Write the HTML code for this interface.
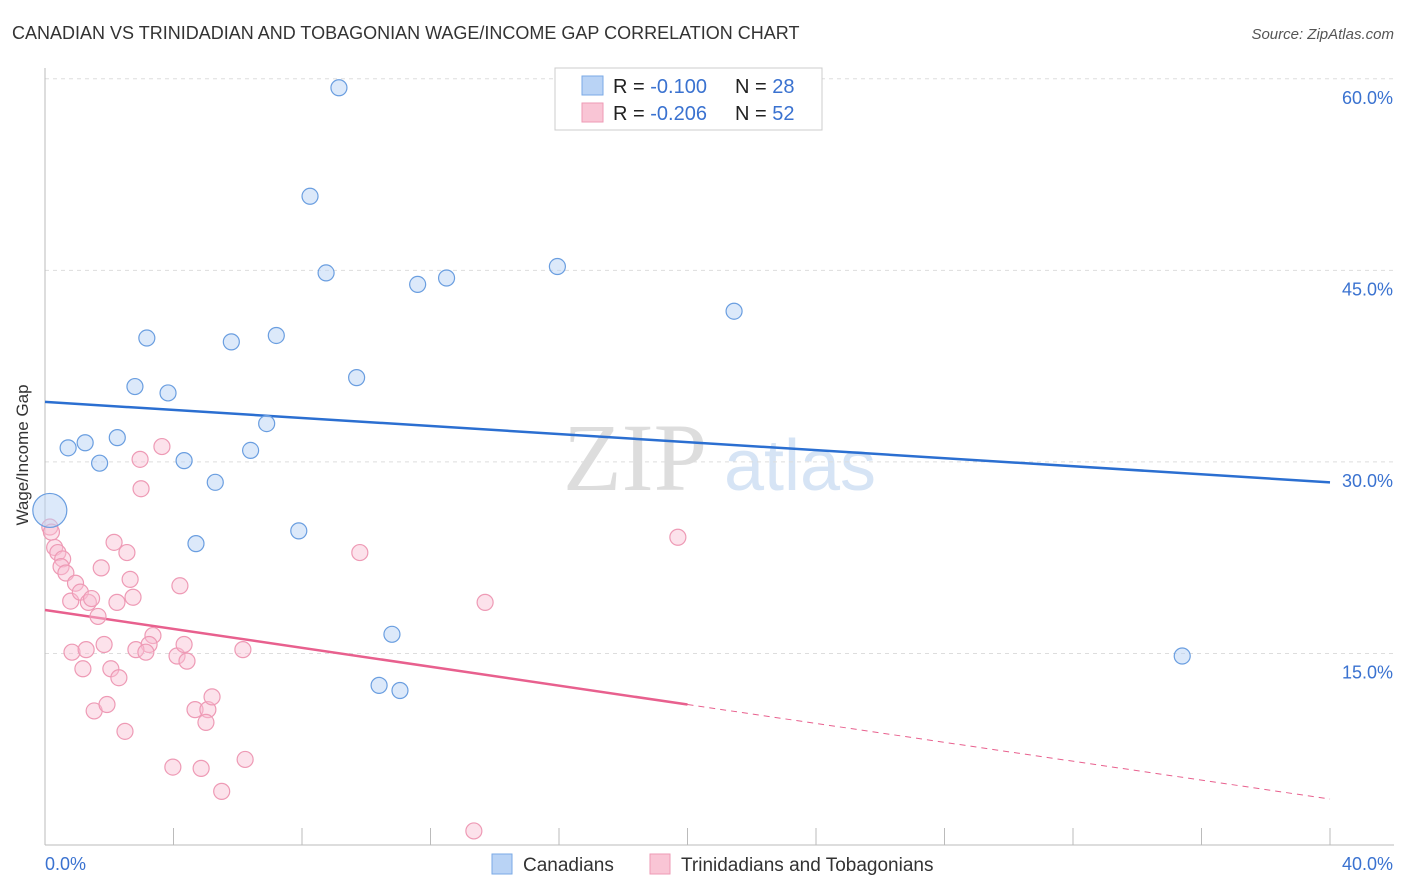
<!DOCTYPE html>
<html><head><meta charset="utf-8"><style>
body{margin:0;background:#fff;font-family:"Liberation Sans",sans-serif}
svg{display:block}
</style></head><body>
<svg id="chart" width="1406" height="892">
<text x="12" y="39" font-size="18" fill="#333">CANADIAN VS TRINIDADIAN AND TOBAGONIAN WAGE/INCOME GAP CORRELATION CHART</text>
<text x="1394" y="39" font-size="15" fill="#555" font-style="italic" text-anchor="end">Source: ZipAtlas.com</text>
<g>
<text x="635" y="490" font-size="96" fill="#ddd" font-family="Liberation Serif,serif" text-anchor="middle">ZIP</text>
<text x="800" y="490" font-size="72" fill="#d6e4f5" text-anchor="middle">atlas</text>
</g>
<g id="grid"></g><g id="axes"></g><g id="lines"></g><g id="pts"></g>
<text x="28" y="455" font-size="17" fill="#333" transform="rotate(-90 28 455)" text-anchor="middle">Wage/Income Gap</text>
<g>
<rect x="555" y="68" width="267" height="62" fill="#fff" stroke="#ccc"/>
<rect x="582" y="76" width="21" height="19" fill="#b9d3f5" stroke="#7aaae6"/>
<rect x="582" y="103" width="21" height="19" fill="#f9c5d5" stroke="#ee9ab5"/>
<text x="613" y="93" font-size="20" fill="#222">R = <tspan fill="#3a72d0">-0.100</tspan><tspan x="735">N = </tspan><tspan fill="#3a72d0">28</tspan></text>
<text x="613" y="120" font-size="20" fill="#222">R = <tspan fill="#3a72d0">-0.206</tspan><tspan x="735">N = </tspan><tspan fill="#3a72d0">52</tspan></text>
</g>
<g>
<rect x="492" y="854" width="20" height="20" fill="#b9d3f5" stroke="#7aaae6"/>
<text x="523" y="871" font-size="19" fill="#333">Canadians</text>
<rect x="650" y="854" width="20" height="20" fill="#f9c5d5" stroke="#ee9ab5"/>
<text x="681" y="871" font-size="19" fill="#333">Trinidadians and Tobagonians</text>
</g>
</svg>
<script>
const yTicks=[15,30,45,60];
const yTickLabels=["15.0%","30.0%","45.0%","60.0%"];
const xTicks=[0,4,8,12,16,20,24,28,32,36,40];
const canX=[9.15,8.25,8.75,11.6,12.5,15.95,21.45,3.17,5.8,7.2,2.8,3.83,9.7,6.9,0.72,1.25,2.25,1.7,4.33,6.4,5.3,0.15,7.9,4.7,10.8,10.4,11.05,35.4];
const canY=[59.3,50.8,44.8,43.9,44.4,45.3,41.8,39.7,39.4,39.9,35.9,35.4,36.6,33.0,31.1,31.5,31.9,29.9,30.1,30.9,28.4,26.2,24.6,23.6,16.5,12.5,12.1,14.8];
const triX=[0.15,0.2,0.3,0.4,0.55,0.5,0.65,0.95,0.8,1.1,1.35,1.45,1.65,1.75,0.84,1.28,1.18,1.84,1.53,1.93,2.05,2.3,2.49,2.15,2.55,2.65,2.24,2.74,2.96,2.99,3.64,3.36,3.24,2.83,3.14,4.2,4.11,4.33,4.42,4.67,5.07,5.2,5.01,3.98,4.86,5.5,6.23,6.16,9.8,13.7,19.7,13.35];
const triY=[24.9,24.5,23.3,22.9,22.4,21.8,21.3,20.5,19.1,19.8,19.0,19.3,17.9,21.7,15.1,15.3,13.8,15.7,10.5,11.0,13.8,13.1,8.9,23.7,22.9,20.8,19.0,19.4,30.2,27.9,31.2,16.4,15.7,15.3,15.1,20.3,14.8,15.7,14.4,10.6,10.6,11.6,9.6,6.1,6.0,4.2,6.7,15.3,22.9,19.0,24.1,1.1];
const canLine=[34.7,28.4];
const triLine=[18.4,11.0,3.6];
const X=v=>45+v*32.125, Y=v=>845-v*12.77;
const NS="http://www.w3.org/2000/svg";
function mk(p,t,a){const e=document.createElementNS(NS,t);for(const k in a)e.setAttribute(k,a[k]);document.getElementById(p).appendChild(e);return e;}
yTicks.forEach((t,i)=>{
 const g=mk('grid','line',{x1:45,x2:1394,y1:Y(t),y2:Y(t),stroke:'#ddd','stroke-dasharray':'4,4'});
 
 
 const l=mk('grid','text',{x:1393,y:Y(t)+25,'font-size':18,fill:'#3a72d0','text-anchor':'end'});
 l.textContent=yTickLabels[i];
 
 
});
const ax=mk('axes','line',{x1:45,x2:1394,y1:845,y2:845,stroke:'#bbb'});


const ay=mk('axes','line',{x1:45,x2:45,y1:68,y2:845,stroke:'#bbb'});


xTicks.forEach(t=>{const e=mk('axes','line',{x1:X(t),x2:X(t),y1:828,y2:845,stroke:'#bbb'});
 
 });
[[0,'0.0%','start',45],[40,'40.0%','end',1393]].forEach(a=>{const e=mk('axes','text',{x:a[3],y:870,'font-size':18,fill:'#3a72d0','text-anchor':a[2]});e.textContent=a[1];
 
 });
const bl=mk('lines','line',{x1:X(0),y1:Y(canLine[0]),x2:X(40),y2:Y(canLine[1]),stroke:'#2b6fd1','stroke-width':2.5});


const pl=mk('lines','line',{x1:X(0),y1:Y(triLine[0]),x2:X(20),y2:Y(triLine[1]),stroke:'#e8608e','stroke-width':2.5});


const pd=mk('lines','line',{x1:X(20),y1:Y(triLine[1]),x2:X(40),y2:Y(triLine[2]),stroke:'#e8608e','stroke-width':1,'stroke-dasharray':'6,5'});


triX.forEach((x,i)=>{const c=mk('pts','circle',{cx:X(x),cy:Y(triY[i]),r:8,fill:'rgba(249,190,210,0.45)',stroke:'#ee9ab5','stroke-width':1.2});
 
 });
canX.forEach((x,i)=>{const c=mk('pts','circle',{cx:X(x),cy:Y(canY[i]),r:i===21?17:8,fill:'rgba(185,211,245,0.5)',stroke:'#6a9ee0','stroke-width':1.2});
 
 });
</script>
</body></html>
